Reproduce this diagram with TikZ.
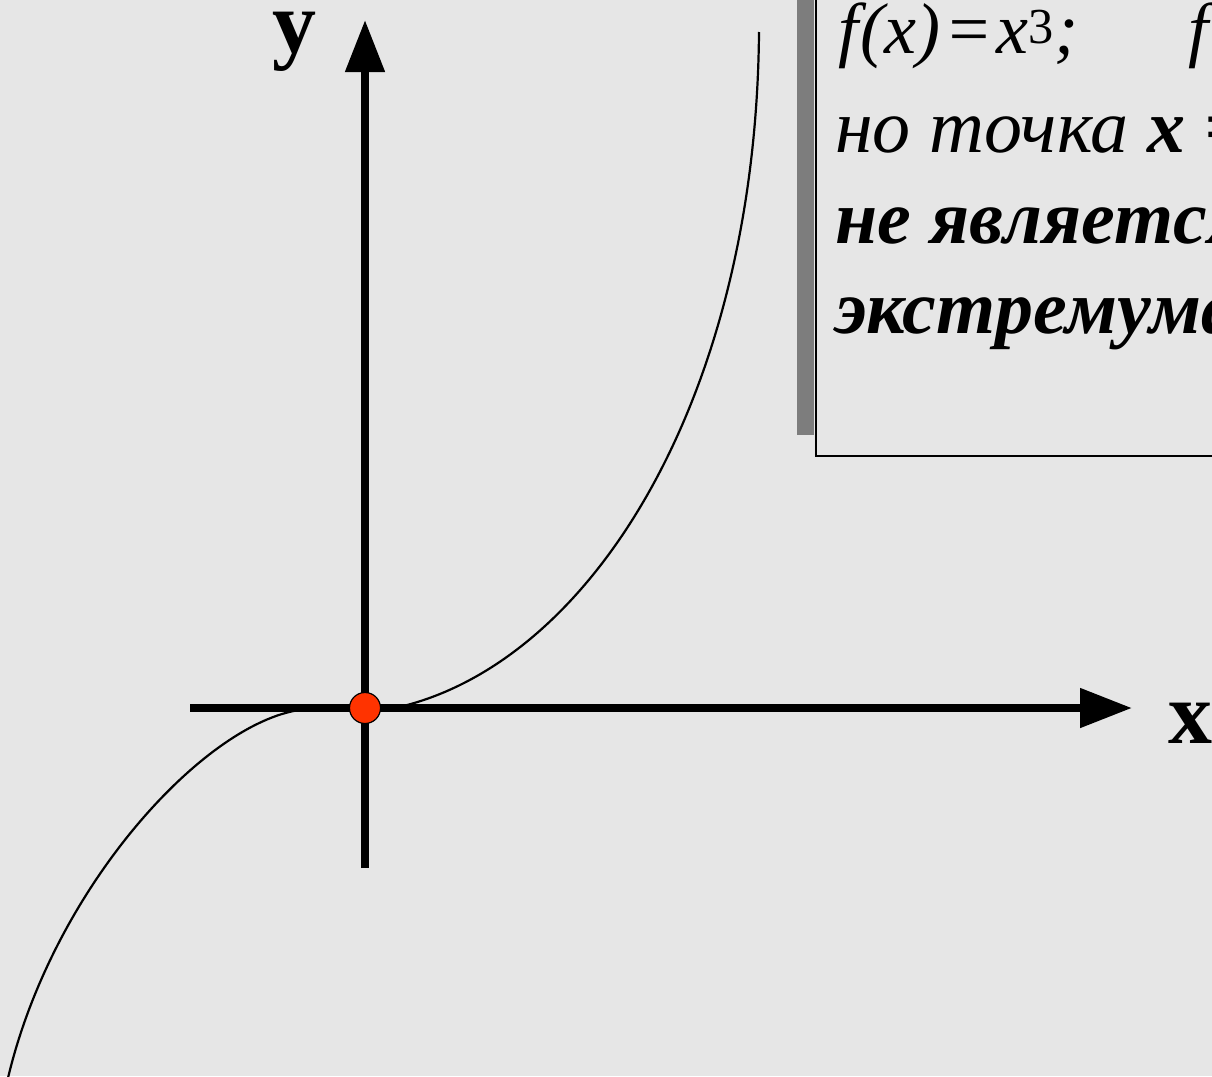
\documentclass[tikz,border=0pt]{standalone}
\usepackage{fontspec}
\setmainfont{Liberation Serif}
\usetikzlibrary{arrows.meta}
\definecolor{cBack}{RGB}{230,230,230}
\definecolor{cDot}{RGB}{255,51,0}
\definecolor{cShade}{RGB}{125,125,125}

\begin{document}
\begin{tikzpicture}[x=1pt, y=-1pt,
  axis/.style={line width=8pt, -{Triangle[length=52pt,width=38pt]}},
  lbl/.style={inner sep=0pt, anchor=base west, font=\fontsize{88}{96}\selectfont\bfseries},
  txt/.style={inner sep=0pt, anchor=base west, font=\fontsize{76}{86}\selectfont\itshape}]
\useasboundingbox (0,0) rectangle (1212,1076);
\fill[cBack] (0,0) rectangle (1212,1076);
\clip (0,0) rectangle (1212,1076);
% text box
\fill[cShade] (797,-5) rectangle (814,435);
\draw[line width=1.5pt] (816,-5) rectangle (1240,456);
\node[txt, font=\fontsize{72}{80}\selectfont\itshape] (ln1) at (838,53)
  {f\kern2pt(x)\kern4pt=\kern4pt x\textsuperscript{\upshape 3};\hspace{110pt}f′(0)=0,};
\node[txt] (ln2) at (835,152) {но точка \textbf{x = 0}};
\node[txt, font=\fontsize{76}{86}\selectfont\itshape\bfseries] (ln3) at (835,243) {не является};
\node[txt, font=\fontsize{76}{86}\selectfont\itshape\bfseries] (ln4) at (835,333) {экстремума};
% f(x)=x^3
\draw[line width=2.2pt] (8,1078) .. controls (55,880) and (215,712) .. (310,709)
  -- (395,708) .. controls (590,665) and (756,400) .. (759,32);
% axes
\coordinate (xl) at (190,708);
\coordinate (xr) at (1132,708);
\coordinate (yb) at (365,868);
\coordinate (yt) at (365,20);
\draw[axis] (xl) -- (xr);
\draw[axis] (yb) -- (yt);
\node[lbl] (lblY) at (272,52) {y};
\node[lbl] (lblX) at (1168,743) {x};
\node[circle, draw, fill=cDot, line width=1.2pt, minimum size=31pt, inner sep=0pt] (dot) at (365,708) {};
\end{tikzpicture}
\end{document}
